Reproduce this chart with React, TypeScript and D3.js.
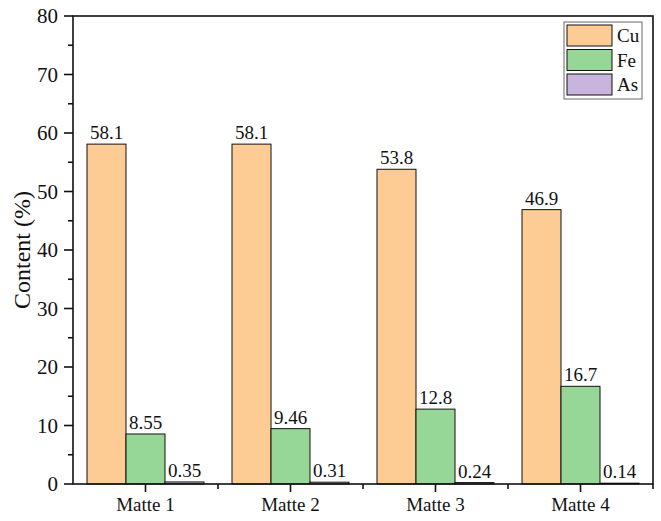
import React from "react";
import * as d3 from "d3";

const categories = ["Matte 1", "Matte 2", "Matte 3", "Matte 4"];
const elements = ["Cu", "Fe", "As"];
const cuValues = [58.1, 58.1, 53.8, 46.9];
const feValues = [8.55, 9.46, 12.8, 16.7];
const asValues = [0.35, 0.31, 0.24, 0.14];
const cuLabels = ["58.1", "58.1", "53.8", "46.9"];
const feLabels = ["8.55", "9.46", "12.8", "16.7"];
const asLabels = ["0.35", "0.31", "0.24", "0.14"];
const yTicks = [0, 10, 20, 30, 40, 50, 60, 70, 80];
const yMinorTicks = [5, 15, 25, 35, 45, 55, 65, 75];

const colors: Record<string, string> = { Cu: "#fdcb94", Fe: "#96d696", As: "#c9b4de" };

const font = "'Liberation Serif', 'Times New Roman', serif";

export default function App() {
	const width = 661;
	const height = 521;
	const margin = { top: 16, right: 8, bottom: 37, left: 73 };
	const x0 = margin.left;
	const x1 = width - margin.right;
	const yBottom = height - margin.bottom;

	const xScale = d3.scaleBand().domain(categories).range([x0, x1]).paddingInner(0).paddingOuter(0);
	const inner = d3.scaleBand().domain(elements).range([0, 117]);
	const yScale = d3.scaleLinear().domain([0, 80]).range([yBottom, margin.top]);

	const series = [
		{ key: "Cu", values: cuValues, labels: cuLabels },
		{ key: "Fe", values: feValues, labels: feLabels },
		{ key: "As", values: asValues, labels: asLabels },
	];

	const bw = xScale.bandwidth();
	const offset = (bw - 117) / 2;

	return (
		<svg width={width} height={height} style={{ position: "absolute", left: 0, top: 0, background: "#fff" }}>
			{/* bars */}
			{series.map((s) =>
				s.values.map((v, i) => {
					const bx = (xScale(categories[i]) ?? 0) + offset + (inner(s.key) ?? 0);
					return (
						<g key={s.key + i}>
							<rect
								x={bx}
								y={yScale(v)}
								width={inner.bandwidth()}
								height={yBottom - yScale(v)}
								fill={colors[s.key]}
								stroke="#111"
								strokeWidth={1}
							/>
							<text
								x={bx + inner.bandwidth() / 2}
								y={yScale(v) - 5}
								textAnchor="middle"
								fontFamily={font}
								fontSize={19}
								fill="#111"
							>
								{s.labels[i]}
							</text>
						</g>
					);
				})
			)}

			{/* frame */}
			<rect x={x0} y={margin.top} width={x1 - x0} height={yBottom - margin.top} fill="none" stroke="#111" strokeWidth={1.6} />

			{/* y axis ticks */}
			{yTicks.map((t) => (
				<g key={"y" + t}>
					<line x1={x0 - 9} x2={x0} y1={yScale(t)} y2={yScale(t)} stroke="#111" strokeWidth={1.6} />
					<text x={x0 - 15} y={yScale(t)} dy="0.35em" textAnchor="end" fontFamily={font} fontSize={21} fill="#111">
						{t}
					</text>
				</g>
			))}
			{yMinorTicks.map((t) => (
				<line key={"ym" + t} x1={x0 - 5} x2={x0} y1={yScale(t)} y2={yScale(t)} stroke="#111" strokeWidth={1.6} />
			))}

			{/* x axis ticks */}
			{categories.map((c) => {
				const cx = (xScale(c) ?? 0) + bw / 2;
				return (
					<g key={c}>
						<line x1={cx} x2={cx} y1={yBottom} y2={yBottom + 8} stroke="#111" strokeWidth={1.6} />
						<text x={cx} y={yBottom + 27} textAnchor="middle" fontFamily={font} fontSize={19} fill="#111">
							{c}
						</text>
					</g>
				);
			})}
			{categories.slice(1).map((c) => {
				const bx = xScale(c) ?? 0;
				return <line key={"xm" + c} x1={bx} x2={bx} y1={yBottom} y2={yBottom + 5} stroke="#111" strokeWidth={1.6} />;
			})}
			<line x1={x1} x2={x1} y1={yBottom} y2={yBottom + 5} stroke="#111" strokeWidth={1.6} />

			{/* y axis title */}
			<text
				transform={`translate(22,${(margin.top + yBottom) / 2}) rotate(-90)`}
				textAnchor="middle"
				dy="0.35em"
				fontFamily={font}
				fontSize={24}
				fill="#111"
			>
				Content (%)
			</text>

			{/* legend */}
			<rect x={564} y={22} width={78} height={77} fill="#fff" stroke="#666" strokeWidth={1} />
			{elements.map((e, i) => (
				<g key={"lg" + e}>
					<rect x={567} y={25 + i * 24.5} width={45} height={21} fill={colors[e]} stroke="#111" strokeWidth={1} />
					<text x={617} y={35.5 + i * 24.5} dy="0.35em" fontFamily={font} fontSize={19} fill="#111">
						{e}
					</text>
				</g>
			))}
		</svg>
	);
}
